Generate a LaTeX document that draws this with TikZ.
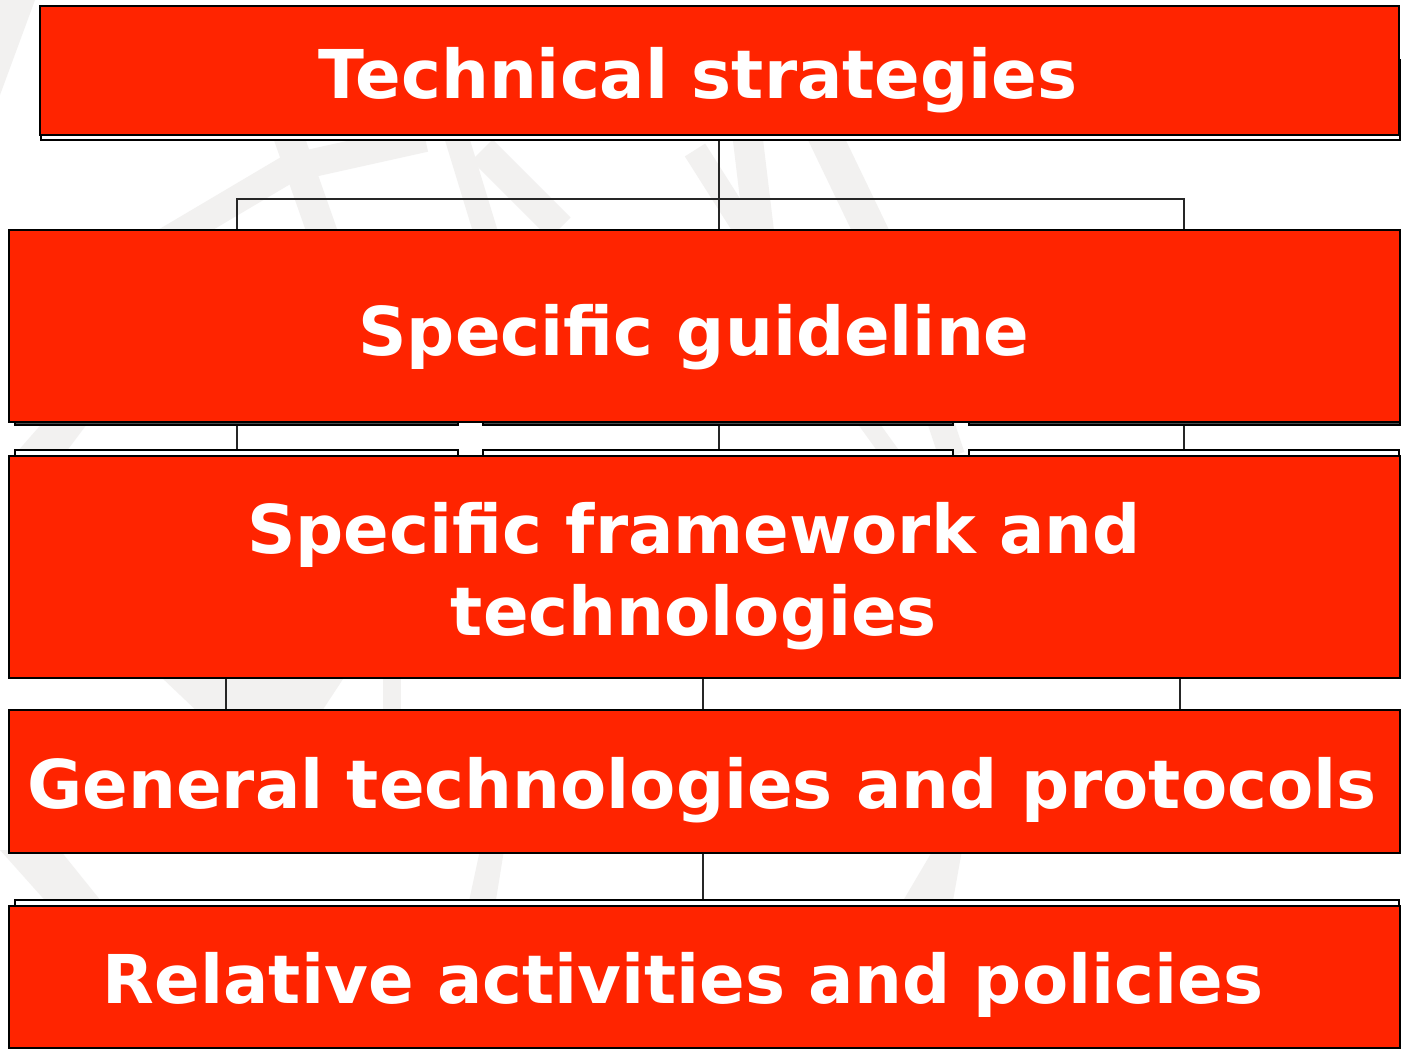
\documentclass[tikz,border=0pt]{standalone}
\usepackage{fontspec}
\setmainfont{DejaVu Sans}
\definecolor{boxred}{RGB}{255,36,0}
\definecolor{wmark}{RGB}{242,241,240}
\begin{document}
\begin{tikzpicture}[x=1pt,y=-1pt,
 redbox/.style={draw=black,line width=2.5pt,fill=boxred,inner sep=0pt},
 shadowbox/.style={draw=black,line width=2pt,fill=white},
 darkshadow/.style={draw=black,line width=1.5pt,fill=black!70},
 conn/.style={draw=black!85,line width=1.2pt},
 wm/.style={draw=wmark,line cap=butt},
 lbl/.style={text=white,font=\bfseries\fontsize{67.3}{80}\selectfont,inner sep=0pt,anchor=base}]
\useasboundingbox (0,0) rectangle (1404,1050);
\fill[white] (0,0) rectangle (1404,1050);
% faint watermark pieces
\fill[wmark] (0,0) -- (35,0) -- (0,95) -- cycle;
\draw[wm,line width=28pt] (165,242) -- (290,168) -- (425,138);
\draw[wm,line width=30pt] (287,132) -- (325,240);
\draw[wm,line width=24pt] (455,132) -- (488,240);
\draw[wm,line width=30pt] (482,150) -- (560,228);
\draw[wm,line width=24pt] (695,150) -- (752,240);
\draw[wm,line width=30pt] (747,132) -- (760,240);
\draw[wm,line width=34pt] (823,132) -- (875,240);
\fill[wmark] (10,460) -- (45,420) -- (90,420) -- (60,460) -- cycle;
\draw[wm,line width=18pt] (866,420) -- (892,456);
\draw[wm,line width=26pt] (940,420) -- (952,456);
\fill[wmark] (160,676) -- (345,676) -- (320,714) -- (200,714) -- cycle;
\fill[wmark] (383,676) rectangle (401,714);
\fill[wmark] (0,850) -- (60,850) -- (105,906) -- (50,906) -- cycle;
\fill[wmark] (480,850) -- (504,850) -- (495,906) -- (468,906) -- cycle;
\fill[wmark] (933,850) -- (962,850) -- (952,906) -- (900,906) -- cycle;
% junction coordinates
\coordinate (jl) at (237,199);
\coordinate (jm) at (719,199);
\coordinate (jr) at (1184,199);
\coordinate (kl) at (226,678);
\coordinate (km) at (703,678);
\coordinate (kr) at (1180,678);
% box nodes (outlines painted later, above the connectors)
\path (719.5,70.5) node[minimum width=1359pt,minimum height=129pt,inner sep=0pt] (b1) {};
\path (704.5,326) node[minimum width=1391pt,minimum height=192pt,inner sep=0pt] (b2) {};
\path (704.5,567) node[minimum width=1391pt,minimum height=222pt,inner sep=0pt] (b3) {};
\path (704.5,781.5) node[minimum width=1391pt,minimum height=143pt,inner sep=0pt] (b4) {};
\path (704.5,977) node[minimum width=1391pt,minimum height=142pt,inner sep=0pt] (b5) {};
% connectors
\draw[conn] (jm |- b1.south) -- (jm);
\draw[conn] (jl |- b2.north) -- (jl) -- (jr) -- (jr |- b2.north);
\draw[conn] (jm) -- (jm |- b2.north);
\draw[conn] (b2.south -| jl) -- (b3.north -| jl);
\draw[conn] (b2.south -| jm) -- (b3.north -| jm);
\draw[conn] (b2.south -| jr) -- (b3.north -| jr);
\draw[conn] (kl) -- (kl |- b4.north);
\draw[conn] (km) -- (km |- b4.north);
\draw[conn] (kr) -- (kr |- b4.north);
\draw[conn] (b4.south -| km) -- (b5.north -| km);
% shadows
\path[shadowbox] (41,60) rectangle (1400,140);
\path[darkshadow] (15,380) rectangle (458,425);
\path[darkshadow] (483,380) rectangle (953,425);
\path[darkshadow] (969,380) rectangle (1400,425);
\path[shadowbox] (15,450) rectangle (458,500);
\path[shadowbox] (483,450) rectangle (953,500);
\path[shadowbox] (969,450) rectangle (1399,500);
\path[shadowbox] (15,900) rectangle (1399,960);
% visible boxes
\path[redbox] (b1.south west) rectangle (b1.north east);
\path[redbox] (b2.south west) rectangle (b2.north east);
\path[redbox] (b3.south west) rectangle (b3.north east);
\path[redbox] (b4.south west) rectangle (b4.north east);
\path[redbox] (b5.south west) rectangle (b5.north east);
% labels
\node[lbl] (t1) at (698,98) {Technical strategies};
\node[lbl] (t2) at (694,355) {Specific guideline};
\node[lbl] (t3a) at (694,553) {Specific framework and};
\node[lbl] (t3b) at (694,635) {technologies};
\node[lbl] (t4) at (702,808) {General technologies and protocols};
\node[lbl] (t5) at (683,1003) {Relative activities and policies};
\end{tikzpicture}
\end{document}
